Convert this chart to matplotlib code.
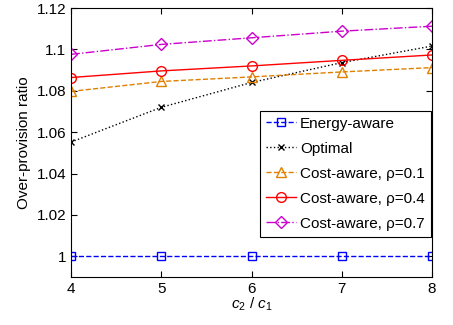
import matplotlib
matplotlib.use('Agg')
import matplotlib.pyplot as plt

plt.rcParams['font.family'] = ['Liberation Sans', 'DejaVu Sans']
plt.rcParams['mathtext.fontset'] = 'custom'
plt.rcParams['mathtext.it'] = 'Liberation Sans:italic'
plt.rcParams['mathtext.rm'] = 'Liberation Sans'

ratio = [4, 5, 6, 7, 8]
energy_aware = [1.0, 1.0, 1.0, 1.0, 1.0]
optimal = [1.0552, 1.072, 1.084, 1.0936, 1.1016]
cost_01 = [1.0797, 1.0845, 1.0867, 1.0891, 1.0912]
cost_04 = [1.0864, 1.0896, 1.092, 1.0947, 1.0973]
cost_07 = [1.0976, 1.1024, 1.1056, 1.1088, 1.1112]

fig = plt.figure(figsize=(4.53, 3.25), dpi=100)
ax = fig.add_axes([71 / 453, 48 / 325, 361 / 453, 269 / 325])

ax.plot(ratio, energy_aware, '--', color='#0000ff', marker='s', ms=6, mfc='none', lw=1, label='Energy-aware')
ax.plot(ratio, optimal, ':', color='black', marker='x', ms=5, lw=1, label='Optimal')
ax.plot(ratio, cost_01, '--', color='#e08000', marker='^', ms=7, mfc='none', lw=1, label='Cost-aware, ρ=0.1')
ax.plot(ratio, cost_04, '-', color='#ff0000', marker='o', ms=7, mfc='none', lw=1, label='Cost-aware, ρ=0.4')
ax.plot(ratio, cost_07, '-.', color='#cc00cc', marker='D', ms=6, mfc='none', lw=1, label='Cost-aware, ρ=0.7')

ax.set_xlim(4, 8)
ax.set_ylim(0.99, 1.12)
ax.set_xticks(ratio)
ax.set_yticks([1, 1.02, 1.04, 1.06, 1.08, 1.1, 1.12])
ax.set_yticklabels(['1', '1.02', '1.04', '1.06', '1.08', '1.1', '1.12'])
ax.tick_params(direction='in', labelsize=11, length=4, top=True, right=True)
ax.set_xlabel('$c_2$ / $c_1$', fontsize=11, labelpad=0)
ax.set_ylabel('Over-provision ratio', fontsize=11)

leg = ax.legend(loc='lower right', bbox_to_anchor=(0.997, 0.149), fontsize=11, fancybox=False,
                framealpha=1, edgecolor='black', handlelength=2.0, borderpad=0.4, labelspacing=0.72,
                handletextpad=0.25, borderaxespad=0)
leg.get_frame().set_linewidth(0.8)

fig.savefig('out.png', dpi=100)
